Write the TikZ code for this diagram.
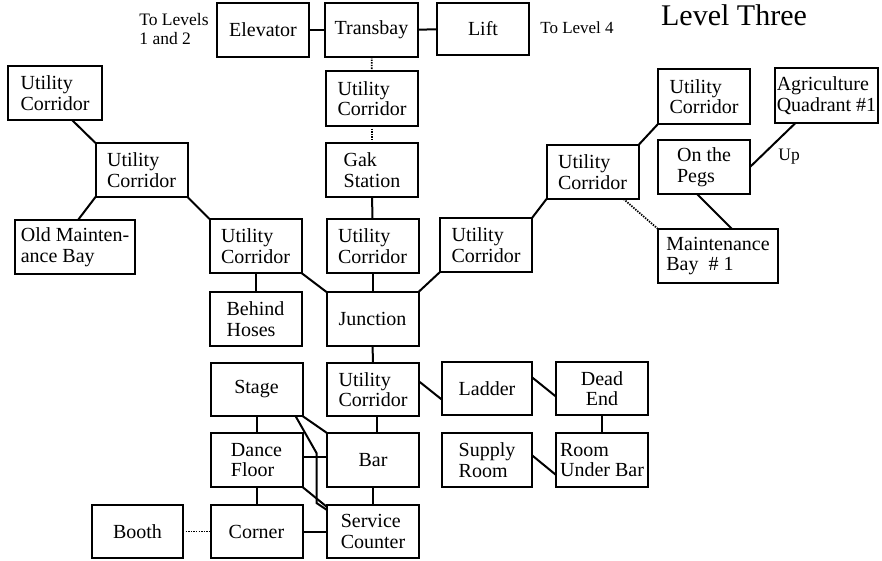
\documentclass[tikz,border=0pt]{standalone}
\usepackage{fontspec}
\setmainfont{Liberation Serif}
\begin{document}
\begin{tikzpicture}[x=1pt, y=-1pt, line width=2pt,
    room/.style={draw, line width=2pt, minimum width=92pt, minimum height=54pt, inner sep=2pt, outer sep=0pt, align=left, font=\fontsize{20}{20.5}\selectfont},
    note/.style={inner sep=0pt, align=left, font=\fontsize{17.5}{19}\selectfont},
    dotline/.style={line width=1.8pt, dash pattern=on 1.4pt off 1.2pt}]
    \useasboundingbox (0,0) rectangle (882,561);
    \node[note] (levA) at (174,29) {To Levels\\1 and 2};
    \node[note, font=\fontsize{17}{19}\selectfont] (levB) at (577,28) {To Level 4};
    \node[note, font=\fontsize{30}{32}\selectfont] (title) at (734,15) {Level Three};
    \node[room] (elev) at (263,30) {Elevator};
    \node[room, minimum width=93pt] (transbay) at (371.5,30) {Transbay};
    \node[room, minimum height=52pt] (lift) at (483,29) {Lift};
    \node[room, minimum width=94pt] (ucA) at (55,93) {Utility\\Corridor};
    \node[room] (ucB) at (141.5,170) {Utility\\Corridor};
    \node[room, minimum width=120pt] (oldbay) at (75,247) {Old Mainten-\\ance Bay};
    \node[room] (ucC) at (255.5,246) {Utility\\Corridor};
    \node[room, minimum height=55pt] (ucT) at (372,98.5) {Utility\\Corridor};
    \node[room] (gak) at (372,170) {Gak\\Station};
    \node[room] (ucD) at (372.5,246) {Utility\\Corridor};
    \node[room] (hoses) at (255.5,319) {Behind\\Hoses};
    \node[room] (junction) at (372.5,319) {Junction};
    \node[room] (ucE) at (486,245) {Utility\\Corridor};
    \node[room] (ucF) at (592.5,172) {Utility\\Corridor};
    \node[room, minimum height=55pt] (ucG) at (704,96.5) {Utility\\Corridor};
    \node[room] (pegs) at (704,167) {On the\\Pegs};
    \node[room, minimum width=103pt, minimum height=55pt] (agri) at (826.5,95.5) {Agriculture\\Quadrant \#1};
    \node[room, minimum width=120pt] (maint) at (718,256) {Maintenance\\Bay \ \# 1};
    \node[room, minimum height=53pt] (stage) at (256.5,389.5) {Stage};
    \node[room, minimum height=53pt] (ucH) at (373,389.5) {Utility\\Corridor};
    \node[room, minimum width=90pt, minimum height=53pt] (ladder) at (487,388.5) {Ladder};
    \node[room, minimum height=53pt, align=center] (deadend) at (602,388.5) {Dead\\End};
    \node[room] (dance) at (256.5,460) {Dance\\Floor};
    \node[room] (bar) at (373,460) {Bar};
    \node[room, minimum width=90pt] (supply) at (487,460) {Supply\\Room};
    \node[room] (roomunder) at (602,460) {Room\\Under Bar};
    \node[room, minimum width=91pt, minimum height=53pt] (booth) at (137.5,531.5) {Booth};
    \node[room, minimum height=53pt] (corner) at (256.5,531.5) {Corner};
    \node[room, minimum height=53pt] (service) at (373,531.5) {Service\\Counter};
    \draw (elev) -- (transbay);
    \draw (transbay) -- (lift);
    \draw[dotline] (transbay) -- (ucT);
    \draw[dotline] (ucT) -- (gak);
    \draw (gak) -- (ucD);
    \draw (ucD) -- (junction);
    \draw ([xshift=17pt]ucA.south) -- (ucB.north west);
    \draw (ucB.south west) -- ([xshift=3pt]oldbay.north);
    \draw (ucB.south east) -- (ucC.north west);
    \draw (ucC) -- (hoses);
    \draw (ucC.south east) -- (junction.north west);
    \draw (junction.north east) -- (ucE.south west);
    \draw (ucE.north east) -- (ucF.south west);
    \draw (ucF.north east) -- (ucG.south west);
    \draw[dotline] ([xshift=-15pt]ucF.south east) -- (maint.north west);
    \draw ([xshift=-7pt]pegs.south) -- ([xshift=14pt]maint.north);
    \draw (pegs.east) -- node[pos=0.45, anchor=north west, inner sep=1pt, xshift=6pt, font=\fontsize{17.5}{19}\selectfont] (up) {Up} ([xshift=-31pt]agri.south);
    \draw (junction) -- (ucH);
    \draw (ucH.10) -- (ladder.194);
    \draw (ladder.14) -- (deadend.190);
    \draw (deadend) -- (roomunder);
    \draw (supply.6) -- (roomunder.198);
    \draw ([xshift=4pt]ucH.south) -- ([xshift=4pt]bar.north);
    \draw (bar) -- (service);
    \draw (stage) -- (dance);
    \draw (dance) -- (corner);
    \draw ([yshift=3pt]dance.east) -- ([yshift=3pt]bar.west);
    \draw (corner) -- (service);
    \draw[dotline] (booth) -- (corner);
    \draw (stage.south east) -- (bar.north west);
    \draw ([xshift=-7pt]stage.south east) -- ++(21pt,-37pt) -- ++(0,-50pt) -- ([yshift=-5pt]service.north west);
    \draw (dance.south east) -- ([yshift=-2pt]service.north west);
\end{tikzpicture}
\end{document}
